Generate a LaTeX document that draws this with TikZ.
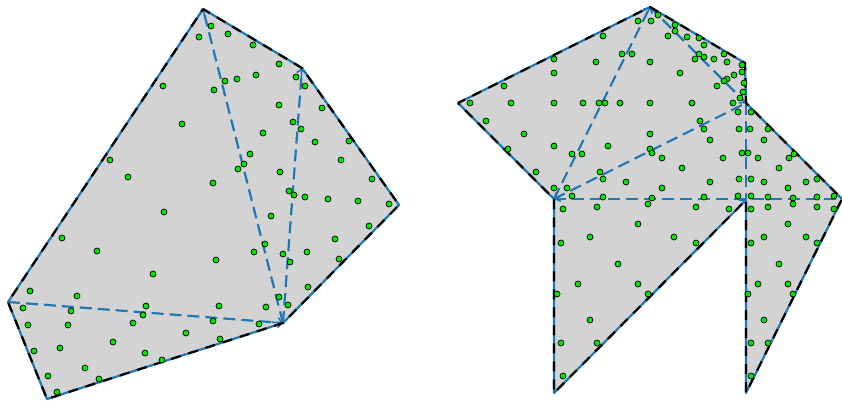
\documentclass[tikz,border=0pt]{standalone}
\usetikzlibrary{arrows.meta,calc}
\definecolor{mblue}{RGB}{31,119,180}
\definecolor{mgray}{RGB}{211,211,211}
\definecolor{mgreen}{RGB}{0,230,0}
\begin{document}
\begin{tikzpicture}[x=1pt,y=-1pt,
  region/.style={fill=mgray,draw=none},
  edgeblue/.style={draw=mblue,line width=2.2pt,line join=round},
  edgeblack/.style={draw=black,line width=2.2pt,dash pattern=on 10pt off 8pt,dash phase=2pt},
  inner/.style={draw=mblue,line width=2.2pt,dash pattern=on 12pt off 6pt},
  tipped/.style={-{Straight Barb[length=4pt,width=10pt,line width=1.5pt]}},
  dot/.style={fill=mgreen,draw=black,line width=0.7pt}]
\useasboundingbox (0,0) rectangle (842,402);
% left polygon vertices
\coordinate (A1) at (203,9);
\coordinate (A2) at (302,68);
\coordinate (A3) at (399,205);
\coordinate (A4) at (283,323);
\coordinate (A5) at (47,399);
\coordinate (A6) at (8,302);
% right polygon vertices
\coordinate (B1) at (458,103);
\coordinate (B2) at (650,7);
\coordinate (B3) at (745,63);
\coordinate (B4) at (746,103);
\coordinate (B5) at (842,199);
\coordinate (B6) at (746,393);
\coordinate (B7) at (746,200);
\coordinate (B8) at (554,393);
\coordinate (B9) at (554,199);
% fills
\path[region] (A1)--(A2)--(A3)--(A4)--(A5)--(A6)--cycle;
\path[region] (B1)--(B2)--(B3)--(B4)--(B5)--(B6)--(B7)--(B8)--(B9)--cycle;
% interior diagonals
\draw[inner] (A6) -- (A4);
\draw[inner] (A4) -- (A1);
\draw[inner] (A4) -- (A2);
\draw[inner] (B9) -- (B2);
\draw[inner] (B9) -- (B4);
\draw[inner] (B9) -- (B5);
\draw[inner] (B4) -- (B7);
\draw[inner] (B2) -- (B4);
% arrow tips
\draw[mblue,tipped,line width=1.5pt] ($(A4)!0.97!(A1)$) -- (A1);
\draw[mblue,tipped,line width=1.5pt] ($(A4)!0.96!(A2)$) -- (A2);
\draw[mblue,tipped,line width=1.5pt] ($(A6)!0.96!(A4)$) -- (A4);
\draw[mblue,tipped,line width=1.5pt] ($(B9)!0.95!(B2)$) -- (B2);
\draw[mblue,tipped,line width=1.5pt] ($(B4)!0.95!(B9)$) -- (B9);
\draw[mblue,tipped,line width=1.5pt] ($(B2)!0.92!(B4)$) -- (B4);
\draw[mblue,tipped,line width=1.5pt] ($(B8)!0.95!(B7)$) -- (B7);
% outlines
\draw[edgeblue] (A1)--(A2)--(A3)--(A4)--(A5)--(A6)--cycle;
\draw[edgeblack] (A1)--(A2)--(A3)--(A4)--(A5)--(A6)--cycle;
\draw[edgeblue] (B1)--(B2)--(B3)--(B4)--(B5)--(B6)--(B7)--(B8)--(B9)--cycle;
\draw[edgeblack] (B1)--(B2)--(B3)--(B4)--(B5)--(B6)--(B7)--(B8)--(B9)--cycle;
% points
\foreach \x/\y in {211/26,199/37,228/34,253/45,279/64,163/86,214/90,225/81,237/79,256/75,296/77,305/86,279/105,322/108,182/124,293/122,301/129,263/133,315/142,349/141,250/154,244/164,238/169,280/172,341/160,110/160,128/177,213/183,372/179,289/191,294/195,305/197,328/199,358/201,389/204,164/212,271/216,369/226,62/238,97/251,216/260,265/244,254/252,283/254,290/262,307/252,335/239,339/259,153/274,308/287,30/291,77/296,23/308,71/311,146/306,143/315,219/306,279/297,288/305,266/307,28/325,68/325,133/323,213/321,259/324,186/333,220/339,113/342,34/351,60/348,145/353,162/360,85/368,48/376,99/379,57/392}
  \path[dot] (\x,\y) circle (3);
\foreach \x/\y in {658/15,638/21,651/21,675/25,675/31,668/36,687/37,699/38,704/45,603/36,622/54,632/54,699/54,695/59,704/57,714/59,724/54,727/62,554/59,596/62,650/62,742/65,742/72,680/73,734/75,727/79,724/81,744/83,717/86,743/92,740/98,554/73,504/86,470/103,511/103,554/103,583/103,599/103,605/103,620/103,650/103,692/103,733/103,738/112,751/112,486/121,524/134,650/134,700/121,704/129,739/129,750/129,768/129,710/140,764/140,554/146,608/146,650/149,508/149,572/154,582/154,652/153,662/158,723/158,742/153,748/153,758/158,789/158,794/154,536/172,600/172,682/168,779/168,603/179,626/182,662/188,710/182,739/179,751/179,764/182,788/188,806/182,817/179,554/188,567/188,572/196,603/197,652/198,648/204,704/197,738/196,751/196,768/197,793/198,817/197,834/196,563/209,597/207,696/207,729/209,751/209,768/207,793/204,817/207,834/209,638/224,788/224,590/237,674/237,561/243,696/243,751/243,764/237,806/237,817/243,618/264,779/264,578/284,638/284,557/294,648/294,748/294,758/284,788/284,793/294,590/320,764/320,561/343,597/343,751/343,768/343,563/376,751/376}
  \path[dot] (\x,\y) circle (3);
\end{tikzpicture}
\end{document}
